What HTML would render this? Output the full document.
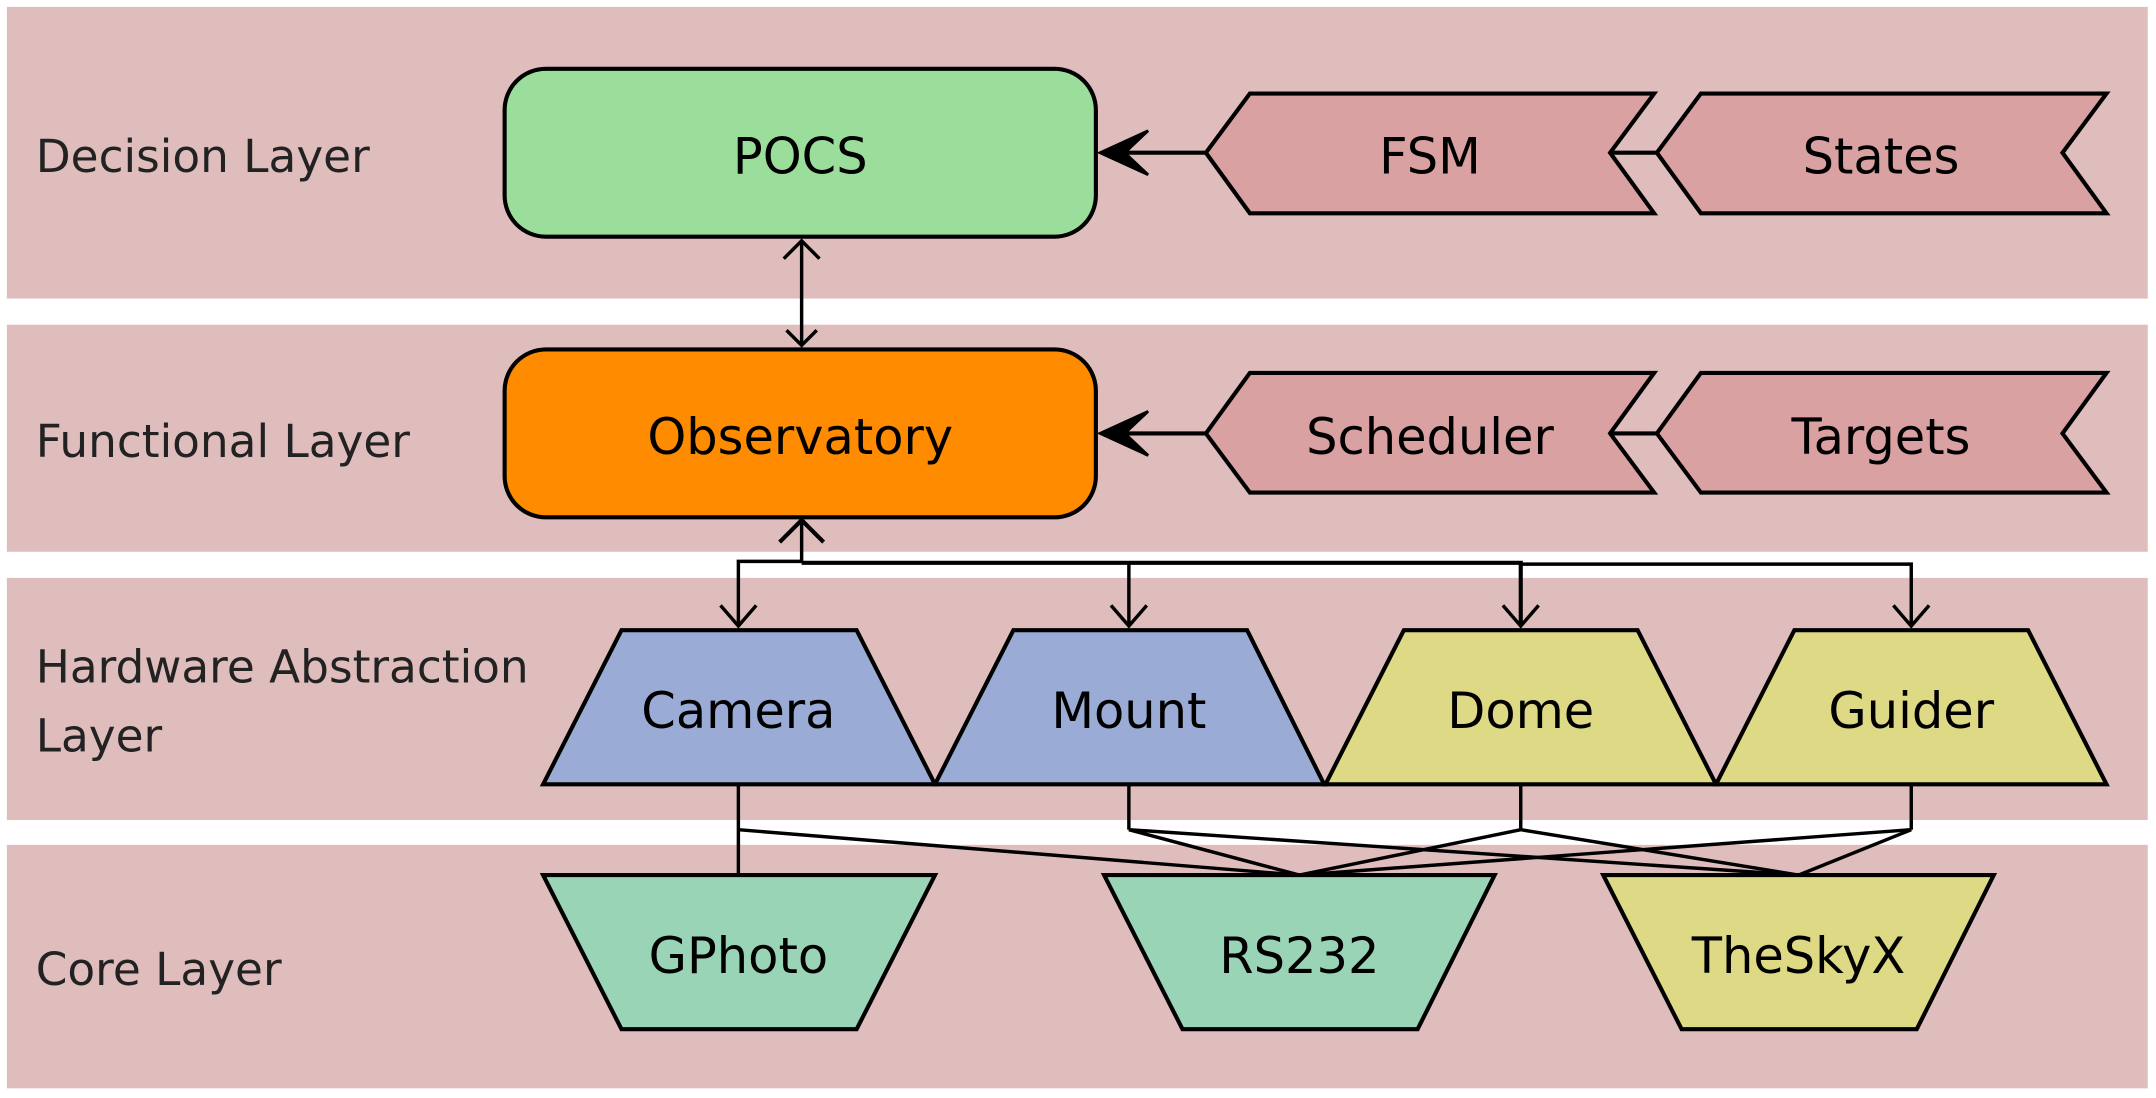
<!DOCTYPE html>
<html><head><meta charset="utf-8"><style>
html,body{margin:0;padding:0;background:#fff}
svg{display:block}
text{font-family:"DejaVu Sans","Liberation Sans",sans-serif}
</style></head><body>
<svg width="2156" height="1098" viewBox="0 0 1568 798" preserveAspectRatio="none" xmlns="http://www.w3.org/2000/svg">
<g fill="#e0bdbd">
<rect x="5" y="5" width="1557" height="212"/>
<rect x="5" y="236" width="1557" height="165"/>
<rect x="5" y="420" width="1557" height="176"/>
<rect x="5" y="614" width="1557" height="177"/>
</g>
<g fill="#222" font-size="33">
<text x="26" y="125">Decision Layer</text>
<text x="26" y="332">Functional Layer</text>
<text x="26" y="496">Hardware Abstraction</text>
<text x="26" y="546">Layer</text>
<text x="26" y="716">Core Layer</text>
</g>
<g stroke="#000" stroke-width="3" fill="none">
<rect x="367" y="50" width="430" height="122" rx="30" fill="#9bdd9b"/>
<rect x="367" y="254" width="430" height="122" rx="30" fill="#fe8b00"/>
<polygon points="877,111 909,68 1203,68 1171,111 1203,155 909,155" fill="#d9a1a1"/>
<polygon points="1205,111 1237,68 1532,68 1500,111 1532,155 1237,155" fill="#d9a1a1"/>
<polygon points="877,315 909,271 1203,271 1171,315 1203,358 909,358" fill="#d9a1a1"/>
<polygon points="1205,315 1237,271 1532,271 1500,315 1532,358 1237,358" fill="#d9a1a1"/>
<line x1="1171" y1="111" x2="1205" y2="111"/>
<line x1="1171" y1="315" x2="1205" y2="315"/>
<line x1="877" y1="111" x2="815" y2="111"/>
<line x1="877" y1="315" x2="815" y2="315"/>
<polygon points="800,111 835,95 818,111 835,127" fill="#000" stroke-width="2"/>
<polygon points="800,315 835,299 818,315 835,331" fill="#000" stroke-width="2"/>
<polygon points="452,458 623,458 680,570 395,570" fill="#9aabd5"/>
<polygon points="737,458 907,458 963,570 680,570" fill="#9aabd5"/>
<polygon points="1021,458 1191,458 1248,570 964,570" fill="#ddd985"/>
<polygon points="1305,458 1475,458 1532,570 1248,570" fill="#ddd985"/>
<polygon points="395,636 680,636 623,748 452,748" fill="#9ad4b6"/>
<polygon points="803,636 1087,636 1031,748 860,748" fill="#9ad4b6"/>
<polygon points="1166,636 1450,636 1394,748 1223,748" fill="#ddd985"/>
<g stroke-width="2.5">
<line x1="583" y1="176" x2="583" y2="251"/>
<polyline points="570,188 583,175 596,188"/>
<polyline points="572,240 583,251 594,240"/>
<polyline points="583,378 583,408 537,408 537,455"/>
<polyline points="583,409 1106,409 1106,455" stroke-width="3"/>
<polyline points="1106,410 1390,410 1390,455"/>
<line x1="821" y1="408" x2="821" y2="455"/>
<polyline points="567,394 583,378 599,394" stroke-width="3"/>
<polyline points="524,440 537,455 550,440"/>
<polyline points="808,440 821,455 834,440"/>
<polyline points="1093,440 1106,455 1119,440"/>
<polyline points="1377,440 1390,455 1403,440"/>
<line x1="537" y1="570" x2="537" y2="636"/>
<line x1="821" y1="570" x2="821" y2="603"/>
<line x1="1106" y1="570" x2="1106" y2="603"/>
<line x1="1390" y1="570" x2="1390" y2="603"/>
<line x1="537" y1="603" x2="945" y2="636"/>
<line x1="821" y1="603" x2="945" y2="636"/>
<line x1="821" y1="603" x2="1308" y2="636"/>
<line x1="1106" y1="603" x2="945" y2="636"/>
<line x1="1106" y1="603" x2="1308" y2="636"/>
<line x1="1390" y1="603" x2="945" y2="636"/>
<line x1="1390" y1="603" x2="1308" y2="636"/>
</g>
</g>
<g fill="#000" font-size="36" text-anchor="middle">
<text x="582" y="126">POCS</text>
<text x="582" y="330">Observatory</text>
<text x="1040" y="126">FSM</text>
<text x="1368" y="126">States</text>
<text x="1040" y="330">Scheduler</text>
<text x="1368" y="330">Targets</text>
<text x="537" y="529">Camera</text>
<text x="821" y="529">Mount</text>
<text x="1106" y="529">Dome</text>
<text x="1390" y="529">Guider</text>
<text x="537" y="707">GPhoto</text>
<text x="945" y="707">RS232</text>
<text x="1308" y="707">TheSkyX</text>
</g>
</svg>
</body></html>
